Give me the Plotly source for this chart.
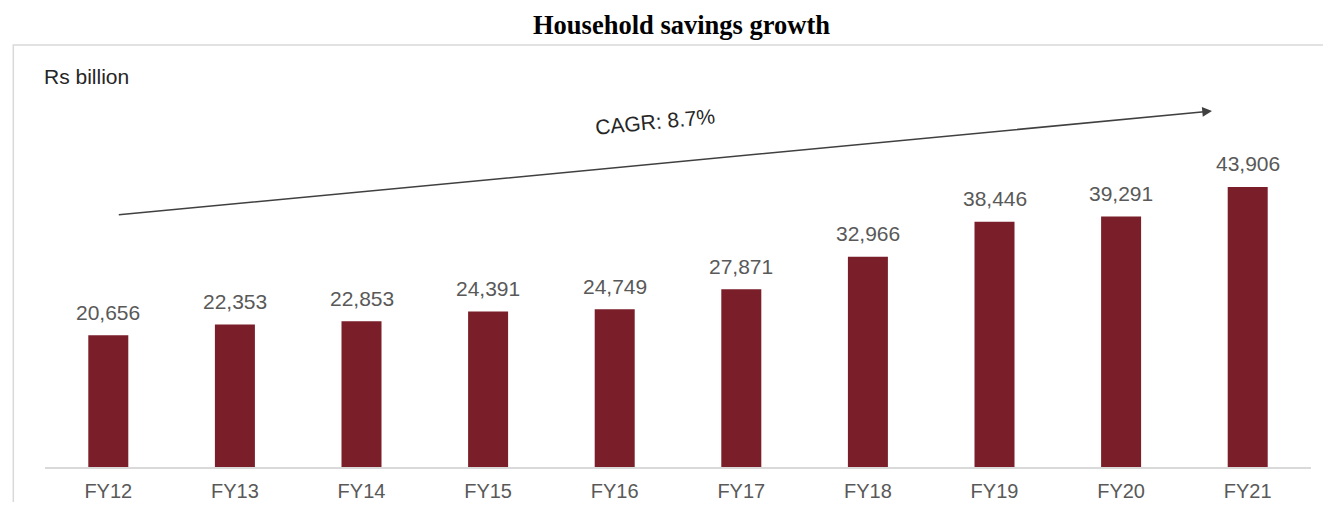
import plotly.graph_objects as go

categories = ["FY12", "FY13", "FY14", "FY15", "FY16", "FY17", "FY18", "FY19", "FY20", "FY21"]
savings = [20656, 22353, 22853, 24391, 24749, 27871, 32966, 38446, 39291, 43906]
labels = [f"{v:,}" for v in savings]
title_text = "Household savings growth"
unit_text = "Rs billion"
cagr_text = "CAGR: 8.7%"

OFF = 8  # page body margin
W, H = 1331 - 2 * OFF, 510 - 2 * OFF
BASE = 467            # page px of baseline
PT = 60               # page px of plot top
PL, PR = 44.7, 1311   # page px of plot left/right
L = PL - OFF
R = W - (PR - OFF)
T = PT - OFF
B = H - (BASE - OFF)
plot_w = W - L - R
plot_h = H - T - B
y_per_px = 156.8
y_max = plot_h * y_per_px
step = (PR - PL) / len(categories)
x0c = PL + step / 2

def px_to_x(px):
    return (px - x0c) / step

def px_to_y(py):
    return (BASE - py) * y_per_px

def px_to_paper_x(px):
    return (px - PL) / plot_w

def px_to_paper_y(py):
    return (BASE - py) / plot_h

SANS = "Liberation Sans, Arial"
xs = list(range(len(categories)))
fig = go.Figure()
fig.add_trace(go.Bar(
    x=xs,
    y=savings,
    width=40 / step,
    marker=dict(color="#7A1E2A", line=dict(width=0)),
    hoverinfo="skip",
))

value_annotations = [
    dict(x=xi, y=v, xref="x", yref="y", text=lab, showarrow=False,
         xanchor="center", yanchor="middle", yshift=23,
         font=dict(family=SANS, size=21, color="#595959"))
    for xi, v, lab in zip(xs, savings, labels)
]

fig.update_layout(
    width=W, height=H,
    margin=dict(l=L, r=R, t=T, b=B, pad=0, autoexpand=False),
    paper_bgcolor="white",
    plot_bgcolor="white",
    showlegend=False,
    xaxis=dict(
        range=[-0.5, len(categories) - 0.5],
        tickmode="array",
        tickvals=xs,
        ticktext=categories,
        showgrid=False,
        zeroline=False,
        showline=True,
        linecolor="#D9D9D9",
        linewidth=1.5,
        ticks="",
        tickfont=dict(family=SANS, size=20, color="#595959"),
        ticklabelstandoff=5,
        automargin=False,
        fixedrange=True,
    ),
    yaxis=dict(
        range=[0, y_max],
        visible=False,
        automargin=False,
        fixedrange=True,
    ),
    shapes=[
        dict(type="rect", xref="paper", yref="paper",
             x0=px_to_paper_x(13), x1=px_to_paper_x(1345),
             y0=px_to_paper_y(530), y1=px_to_paper_y(45),
             line=dict(color="#D9D9D9", width=1.5), fillcolor="rgba(0,0,0,0)", layer="below"),
    ],
    annotations=[
        dict(text=f"<b>{title_text}</b>", xref="paper", yref="paper",
             x=px_to_paper_x(681), y=px_to_paper_y(25), xanchor="center", yanchor="middle",
             showarrow=False, font=dict(family="Liberation Serif, Times New Roman", size=26.5, color="black")),
        dict(text=unit_text, xref="paper", yref="paper",
             x=px_to_paper_x(42), y=px_to_paper_y(77), xanchor="left", yanchor="middle",
             showarrow=False, font=dict(family=SANS, size=21, color="#262626")),
        dict(x=px_to_x(1212), y=px_to_y(111), ax=px_to_x(117), ay=px_to_y(215),
             xref="x", yref="y", axref="x", ayref="y", text="",
             showarrow=True, arrowhead=2, arrowsize=1.3, arrowwidth=1.5, arrowcolor="#404040"),
        dict(text=cagr_text, xref="x", yref="y",
             x=px_to_x(655), y=px_to_y(121), xanchor="center", yanchor="middle",
             showarrow=False, textangle=-5.4,
             font=dict(family=SANS, size=21, color="#262626")),
    ] + value_annotations,
)

fig.write_html("out.html")
